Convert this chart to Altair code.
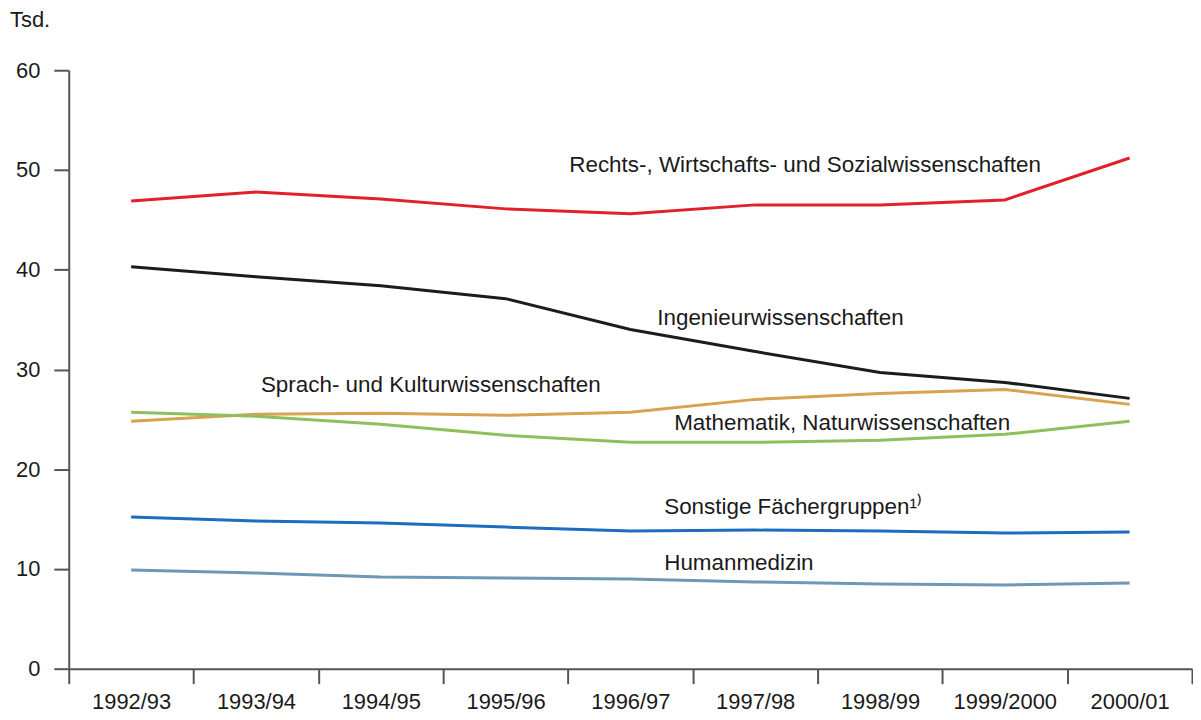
import altair as alt
import pandas as pd

years = ["1992/93", "1993/94", "1994/95", "1995/96", "1996/97",
         "1997/98", "1998/99", "1999/2000", "2000/01"]

rechts = [46.9, 47.8, 47.1, 46.1, 45.6, 46.5, 46.5, 47.0, 51.2]
ingenieur = [40.3, 39.3, 38.4, 37.1, 34.0, 31.8, 29.7, 28.7, 27.1]
sprach = [24.8, 25.5, 25.6, 25.4, 25.7, 27.0, 27.6, 28.0, 26.5]
mathe = [25.7, 25.3, 24.5, 23.4, 22.7, 22.7, 22.9, 23.5, 24.8]
sonstige = [15.2, 14.8, 14.6, 14.2, 13.8, 13.9, 13.8, 13.6, 13.7]
human = [9.9, 9.6, 9.2, 9.1, 9.0, 8.7, 8.5, 8.4, 8.6]

series_names = ["Rechts", "Ingenieur", "Sprach", "Mathe", "Sonstige", "Human"]
series_values = [rechts, ingenieur, sprach, mathe, sonstige, human]
series_colors = ["#e2202c", "#1c1c1c", "#d8a24e", "#8dbf5d", "#1d6cbf", "#6e98b6"]

rows = []
for name, vals in zip(series_names, series_values):
    for y, v in zip(years, vals):
        rows.append({"year": y, "value": v, "series": name})
df = pd.DataFrame(rows)

FONT = "Liberation Sans"
FS = 22
FS_LABEL = 22.5

x_enc = alt.X(
    "year:N", sort=years, title=None,
    scale=alt.Scale(type="band", paddingInner=0, paddingOuter=0),
    bandPosition=0.5,
    axis=alt.Axis(tickBand="extent", labelAngle=0, tickSize=15, labelPadding=8,
                  domainColor="#555555", tickColor="#555555", domainWidth=2,
                  tickWidth=2, labelColor="#1a1a1a", labelFontSize=FS,
                  labelFont=FONT),
)
y_enc = alt.Y(
    "value:Q", title=None,
    scale=alt.Scale(domain=[0, 60], nice=False, zero=True),
    axis=alt.Axis(values=[0, 10, 20, 30, 40, 50, 60], grid=False, tickSize=15,
                  labelPadding=14, domainColor="#555555", tickColor="#555555",
                  domainWidth=2, tickWidth=2, labelColor="#1a1a1a",
                  labelFontSize=FS, labelFont=FONT),
)

lines = alt.Chart(df).mark_line(strokeWidth=3, interpolate="linear").encode(
    x=x_enc,
    y=y_enc,
    color=alt.Color("series:N", scale=alt.Scale(domain=series_names, range=series_colors),
                    legend=None),
    detail="series:N",
)

label_texts = ["Rechts-, Wirtschafts- und Sozialwissenschaften",
               "Ingenieurwissenschaften",
               "Sprach- und Kulturwissenschaften",
               "Mathematik, Naturwissenschaften",
               "Sonstige Fächergruppen\u00b9\u207e",
               "Humanmedizin"]
label_years = ["1995/96", "1996/97", "1993/94", "1996/97", "1996/97", "1996/97"]
label_values = [50.5, 35.2, 28.4, 24.6, 16.2, 10.6]
label_dx = [64, 27, 5, 44, 34, 34]

layers = [lines]
for t, yr, v, dx in zip(label_texts, label_years, label_values, label_dx):
    ldf = pd.DataFrame({"year": [yr], "value": [v], "label": [t]})
    layers.append(
        alt.Chart(ldf).mark_text(align="left", baseline="middle", dx=dx,
                                 font=FONT, fontSize=FS_LABEL, color="#1a1a1a").encode(
            x=alt.X("year:N", sort=years, bandPosition=0.5),
            y="value:Q",
            text="label:N",
        )
    )

tsd = alt.Chart(pd.DataFrame({"t": ["Tsd."]})).mark_text(
    align="left", baseline="middle", font=FONT, fontSize=FS, color="#1a1a1a"
).encode(x=alt.value(-59), y=alt.value(-50), text="t:N")
layers.append(tsd)

chart = alt.layer(*layers).properties(
    width=1128, height=601,
    padding={"left": 2, "top": 0, "right": 0, "bottom": 0},
).configure_view(stroke=None)

chart.save("out.html", embed_options={"renderer": "svg", "actions": False})
